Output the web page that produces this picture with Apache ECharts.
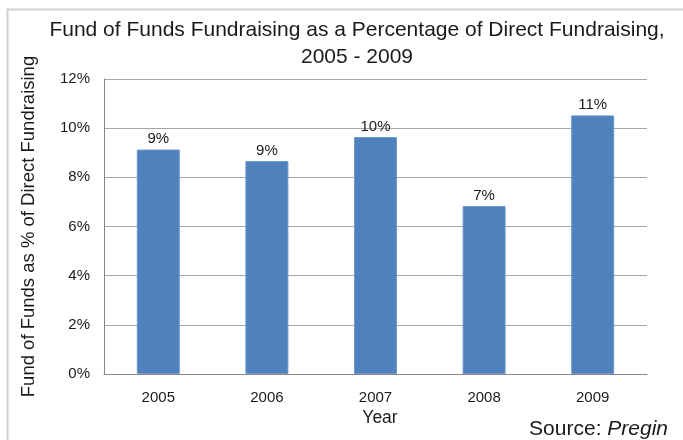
<!DOCTYPE html>
<html>
<head>
<meta charset="utf-8">
<script src="https://cdn.jsdelivr.net/npm/echarts@6/dist/echarts.min.js"></script>
<style>html,body{margin:0;padding:0;background:#fff}#c{width:683px;height:440px}</style>
</head>
<body>
<div id="c"></div>
<script>
const years = ['2005', '2006', '2007', '2008', '2009'];
const fofShare = [9.13, 8.66, 9.64, 6.83, 10.52];
const yTicks = { min: 0, max: 12, interval: 2 };

const chart = echarts.init(document.getElementById('c'), null, { renderer: 'canvas' });
const font = '"Liberation Sans", Arial, sans-serif';
chart.setOption({
  animation: false,
  backgroundColor: '#fff',
  textStyle: { fontFamily: font },
  graphic: [
    { type: 'polyline', shape: { points: [[7.5, 445], [7.5, 9.5], [690, 9.5]] },
      style: { stroke: '#d0d0d0', lineWidth: 2, fill: null } },
    { type: 'text', x: 357, y: 30, style: { text: 'Fund of Funds Fundraising as a Percentage of Direct Fundraising,', font: '21px ' + font, fill: '#1a1a1a', textAlign: 'center', textVerticalAlign: 'middle' } },
    { type: 'text', x: 357, y: 57, style: { text: '2005 - 2009', font: '21px ' + font, fill: '#1a1a1a', textAlign: 'center', textVerticalAlign: 'middle' } },
    { type: 'text', x: 380, y: 418, style: { text: 'Year', font: '17.5px ' + font, fill: '#1a1a1a', textAlign: 'center', textVerticalAlign: 'middle' } },
    { type: 'text', x: 668, y: 429, style: { rich: { a: { fontSize: 21, fontFamily: font, fill: '#1a1a1a' }, b: { fontSize: 21, fontFamily: font, fontStyle: 'italic', fill: '#1a1a1a' } }, text: '{a|Source: }{b|Pregin}', textAlign: 'right', textVerticalAlign: 'middle' } }
  ],
  grid: { left: 104, right: 36, top: 79, bottom: 66 },
  xAxis: {
    type: 'category',
    data: years,
    axisLine: { lineStyle: { color: '#888', width: 1 } },
    axisTick: { show: false },
    axisLabel: { fontSize: 15, color: '#1a1a1a', margin: 16 }
  },
  yAxis: {
    type: 'value',
    min: yTicks.min, max: yTicks.max, interval: yTicks.interval,
    name: 'Fund of Funds as % of Direct Fundraising',
    nameLocation: 'middle',
    nameGap: 66,
    nameRotate: 90,
    nameTextStyle: { fontSize: 18.5, color: '#1a1a1a' },
    axisLine: { show: true, lineStyle: { color: '#888', width: 1 } },
    axisTick: { show: false },
    axisLabel: { fontSize: 15, color: '#1a1a1a', margin: 14, formatter: '{value}%' },
    splitLine: { lineStyle: { color: '#a6a6a6', width: 1 } }
  },
  series: [{
    type: 'bar',
    data: fofShare,
    barWidth: 43,
    itemStyle: { color: '#4f81bd', borderColor: '#6f98cc', borderWidth: 1 },
    label: { show: true, position: 'top', distance: 3, fontSize: 15, color: '#1a1a1a',
      formatter: p => Math.round(p.value) + '%' }
  }]
});
</script>
</body>
</html>
